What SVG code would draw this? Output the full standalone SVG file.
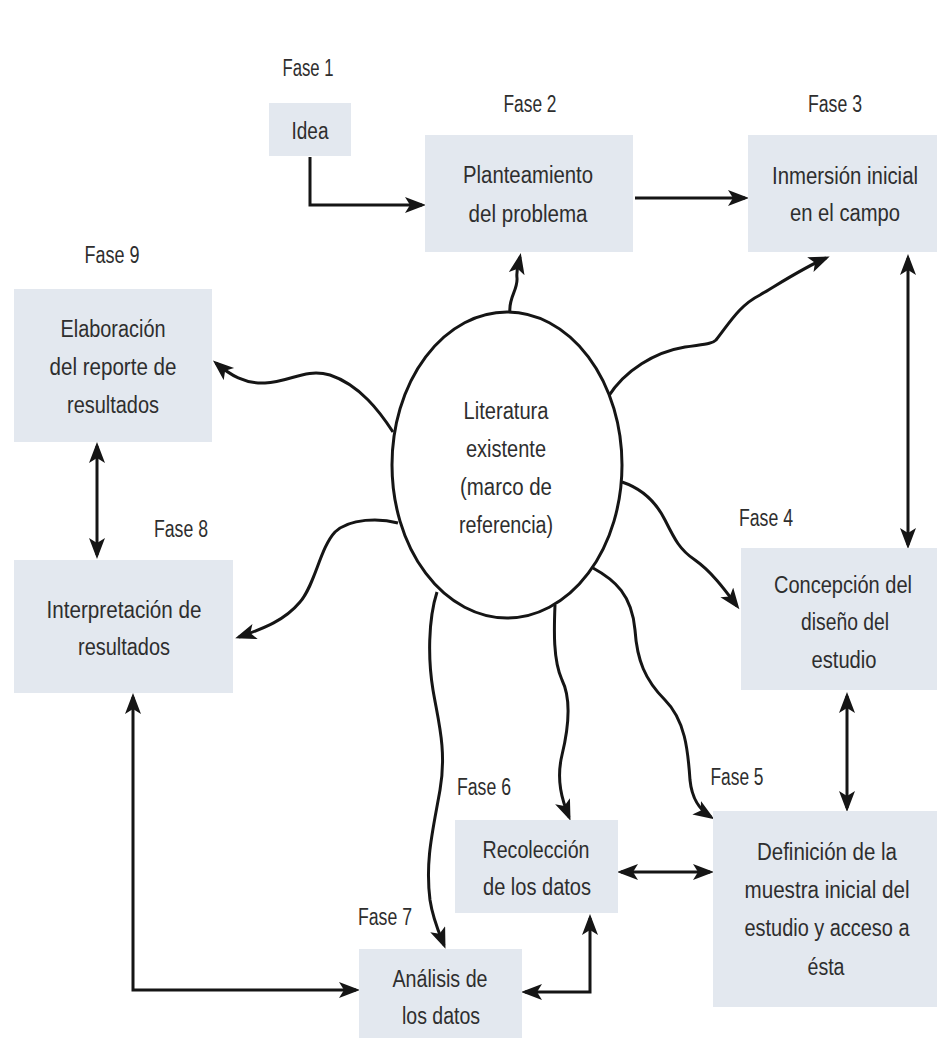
<svg xmlns="http://www.w3.org/2000/svg" width="937" height="1038" viewBox="0 0 937 1038">
<style>
.box{fill:#e3e8ef;}
.t{font-family:"Liberation Sans",Arial,sans-serif;font-size:23px;fill:#2e2e2e;text-anchor:middle;}
.c{fill:none;stroke:#151515;stroke-width:3;}
</style>
<defs>
<marker id="ah" markerUnits="userSpaceOnUse" markerWidth="24" markerHeight="18" refX="17" refY="8" orient="auto-start-reverse" viewBox="0 0 24 18">
<path d="M0,0 L21,8 L0,16 L5,8 Z" fill="#151515"/>
</marker>
</defs>
<rect width="937" height="1038" fill="#ffffff"/>

<g id="connectors">
<path class="c" d="M310,157 V205 H422" marker-end="url(#ah)"/>
<path class="c" d="M635,198 H745" marker-end="url(#ah)"/>
<path class="c" d="M908,258 V545" marker-start="url(#ah)" marker-end="url(#ah)"/>
<path class="c" d="M847,696 V808" marker-start="url(#ah)" marker-end="url(#ah)"/>
<path class="c" d="M621,872 H710" marker-start="url(#ah)" marker-end="url(#ah)"/>
<path class="c" d="M525,992 H590 V918" marker-start="url(#ah)" marker-end="url(#ah)"/>
<path class="c" d="M97,446 V555" marker-start="url(#ah)" marker-end="url(#ah)"/>
<path class="c" d="M133,697 V990 H356" marker-start="url(#ah)" marker-end="url(#ah)"/>
<path class="c" d="M510,313 C508,298 518,290 517,278 C516,268 519,262 520,257" marker-end="url(#ah)"/>
<path class="c" d="M608,397 C625,370 655,352 685,347 C705,344 712,344 716,340 C730,322 740,305 760,295 C785,280 805,267 826,258" marker-end="url(#ah)"/>
<path class="c" d="M393,432 C380,412 360,385 330,375 C305,368 290,382 265,383 C245,384 230,375 216,363" marker-end="url(#ah)"/>
<path class="c" d="M398,523 C380,518 350,518 335,532 C320,548 315,585 300,602 C285,620 265,628 239,637" marker-end="url(#ah)"/>
<path class="c" d="M622,482 C640,488 655,500 665,520 C675,540 680,550 695,560 C712,572 725,590 737,606" marker-end="url(#ah)"/>
<path class="c" d="M593,568 C615,580 632,595 635,630 C637,660 645,680 665,700 C685,720 688,750 690,780 C692,800 700,810 711,817" marker-end="url(#ah)"/>
<path class="c" d="M555,605 C554,630 553,660 562,680 C572,700 568,730 562,755 C556,780 562,800 569,817" marker-end="url(#ah)"/>
<path class="c" d="M437,592 C428,620 428,660 433,690 C438,720 447,750 440,790 C433,830 425,860 430,900 C433,920 440,935 444,945" marker-end="url(#ah)"/>
</g>

<g id="literatura">
<ellipse cx="507" cy="465" rx="115" ry="153" fill="#ffffff" stroke="#151515" stroke-width="3"/>
<text class="t"><tspan x="506" y="419" textLength="85" lengthAdjust="spacingAndGlyphs">Literatura</tspan><tspan x="506" y="457" textLength="80" lengthAdjust="spacingAndGlyphs">existente</tspan><tspan x="506" y="495" textLength="92" lengthAdjust="spacingAndGlyphs">(marco de</tspan><tspan x="506" y="533" textLength="94" lengthAdjust="spacingAndGlyphs">referencia)</tspan></text>
</g>

<g id="fase1">
<text class="t" x="308" y="76" textLength="51" lengthAdjust="spacingAndGlyphs">Fase 1</text>
<rect class="box" x="269" y="103" width="82" height="53"/>
<text class="t" x="310" y="139" textLength="37" lengthAdjust="spacingAndGlyphs">Idea</text>
</g>

<g id="fase2">
<text class="t" x="530" y="112" textLength="53" lengthAdjust="spacingAndGlyphs">Fase 2</text>
<rect class="box" x="425" y="135" width="208" height="117"/>
<text class="t" x="528" y="183" textLength="130" lengthAdjust="spacingAndGlyphs">Planteamiento</text>
<text class="t" x="528" y="222" textLength="119" lengthAdjust="spacingAndGlyphs">del problema</text>
</g>

<g id="fase3">
<text class="t" x="835" y="112" textLength="54" lengthAdjust="spacingAndGlyphs">Fase 3</text>
<rect class="box" x="748" y="135" width="189" height="117"/>
<text class="t" x="845" y="184" textLength="146" lengthAdjust="spacingAndGlyphs">Inmersión inicial</text>
<text class="t" x="845" y="221" textLength="110" lengthAdjust="spacingAndGlyphs">en el campo</text>
</g>

<g id="fase4">
<text class="t" x="766" y="526" textLength="54" lengthAdjust="spacingAndGlyphs">Fase 4</text>
<rect class="box" x="741" y="548" width="196" height="142"/>
<text class="t" x="843" y="593" textLength="138" lengthAdjust="spacingAndGlyphs">Concepción del</text>
<text class="t" x="845" y="630" textLength="88" lengthAdjust="spacingAndGlyphs">diseño del</text>
<text class="t" x="844" y="668" textLength="65" lengthAdjust="spacingAndGlyphs">estudio</text>
</g>

<g id="fase5">
<text class="t" x="737" y="785" textLength="53" lengthAdjust="spacingAndGlyphs">Fase 5</text>
<rect class="box" x="713" y="811" width="224" height="196"/>
<text class="t" x="827" y="860" textLength="140" lengthAdjust="spacingAndGlyphs">Definición de la</text>
<text class="t" x="827" y="898" textLength="165" lengthAdjust="spacingAndGlyphs">muestra inicial del</text>
<text class="t" x="827" y="936" textLength="165" lengthAdjust="spacingAndGlyphs">estudio y acceso a</text>
<text class="t" x="826" y="975" textLength="37" lengthAdjust="spacingAndGlyphs">ésta</text>
</g>

<g id="fase6">
<text class="t" x="484" y="795" textLength="54" lengthAdjust="spacingAndGlyphs">Fase 6</text>
<rect class="box" x="455" y="820" width="163" height="93"/>
<text class="t" x="536" y="858" textLength="107" lengthAdjust="spacingAndGlyphs">Recolección</text>
<text class="t" x="537" y="895" textLength="108" lengthAdjust="spacingAndGlyphs">de los datos</text>
</g>

<g id="fase7">
<text class="t" x="385" y="925" textLength="54" lengthAdjust="spacingAndGlyphs">Fase 7</text>
<rect class="box" x="359" y="949" width="163" height="89"/>
<text class="t" x="440" y="987" textLength="95" lengthAdjust="spacingAndGlyphs">Análisis de</text>
<text class="t" x="441" y="1024" textLength="78" lengthAdjust="spacingAndGlyphs">los datos</text>
</g>

<g id="fase8">
<text class="t" x="181" y="537" textLength="54" lengthAdjust="spacingAndGlyphs">Fase 8</text>
<rect class="box" x="14" y="560" width="219" height="133"/>
<text class="t" x="124" y="618" textLength="155" lengthAdjust="spacingAndGlyphs">Interpretación de</text>
<text class="t" x="124" y="655" textLength="92" lengthAdjust="spacingAndGlyphs">resultados</text>
</g>

<g id="fase9">
<text class="t" x="112" y="263" textLength="55" lengthAdjust="spacingAndGlyphs">Fase 9</text>
<rect class="box" x="14" y="289" width="198" height="153"/>
<text class="t" x="113" y="337" textLength="105" lengthAdjust="spacingAndGlyphs">Elaboración</text>
<text class="t" x="113" y="375" textLength="127" lengthAdjust="spacingAndGlyphs">del reporte de</text>
<text class="t" x="113" y="413" textLength="92" lengthAdjust="spacingAndGlyphs">resultados</text>
</g>
</svg>
